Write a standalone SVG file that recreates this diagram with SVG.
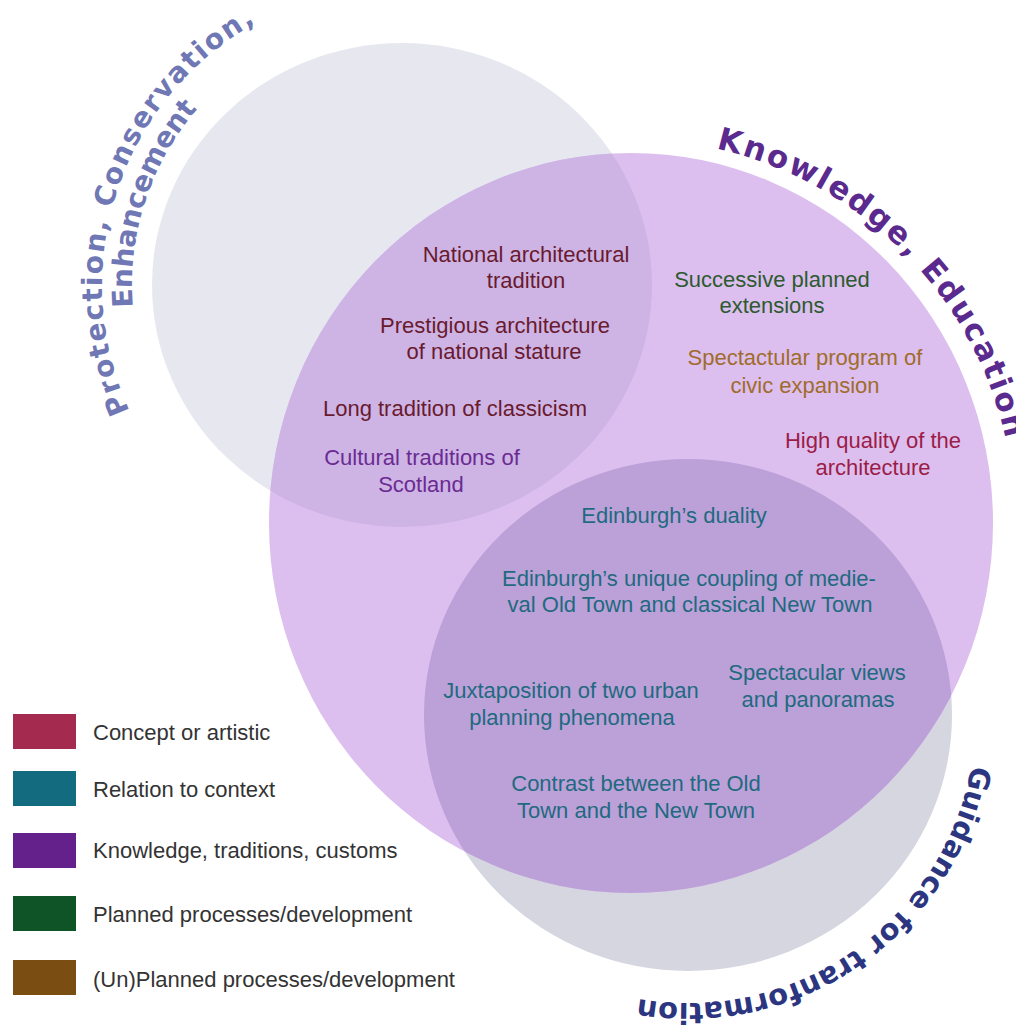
<svg xmlns="http://www.w3.org/2000/svg" width="1016" height="1028" viewBox="0 0 1016 1028">
<style>
.lbl{font-family:"Liberation Sans",Arial,sans-serif;font-size:22px;text-anchor:middle}
.leg{font-family:"Liberation Sans",Arial,sans-serif;font-size:22px;fill:#333333}
.arc{font-family:"DejaVu Sans","Liberation Sans",sans-serif;font-weight:bold}
.maroon{fill:#6a1a2e}.purple{fill:#6b2b92}.green{fill:#2d5a30}.brown{fill:#a06c2c}.crimson{fill:#9c1c48}.teal{fill:#1f6a80}
</style>
<defs>
<ellipse id="cA" cx="402" cy="285" rx="250" ry="242"/>
<ellipse id="cB" cx="631" cy="523" rx="362" ry="370"/>
<ellipse id="cC" cx="688" cy="715" rx="264" ry="256"/>
<clipPath id="clipB"><use href="#cB"/></clipPath>
<path id="pProt" d="M147.6,444 A300,300 0 0 1 289.6,6.8"/>
<path id="pEnh" d="M172.9,428 A270,270 0 0 1 301.0,34.7"/>
<path id="pKnow" d="M597.9,140.4 A384,384 0 0 1 1013.6,556.5"/>
<path id="pGuid" d="M974.9,689.9 A288,288 0 0 1 566.3,976"/>
</defs>
<rect width="1016" height="1028" fill="#ffffff"/>
<g id="circles">
<use href="#cA" fill="#e7e7f0"/>
<use href="#cC" fill="#d5d6e0"/>
<use href="#cB" fill="#dcbfef"/>
<g clip-path="url(#clipB)">
<use href="#cA" fill="#cdb4e5"/>
<use href="#cC" fill="#bca0d8"/>
</g>
</g>
<g id="connectors"/>
<g id="title-protection" class="arc" fill="#6f77b4" font-size="28">
<text><textPath href="#pProt" startOffset="50%" text-anchor="middle" textLength="448" lengthAdjust="spacing">Protection, Conservation,</textPath></text>
<text><textPath href="#pEnh" startOffset="50%" text-anchor="middle" textLength="214" lengthAdjust="spacing">Enhancement</textPath></text>
</g>
<g id="title-knowledge" class="arc" fill="#5a2a8e" font-size="31">
<text><textPath href="#pKnow" startOffset="50%" text-anchor="middle" textLength="432" lengthAdjust="spacing">Knowledge, Education</textPath></text>
</g>
<g id="title-guidance" class="arc" fill="#2c3680" font-size="29">
<text><textPath href="#pGuid" startOffset="50%" text-anchor="middle" textLength="452" lengthAdjust="spacing">Guidance for tranformation</textPath></text>
</g>
<g id="node-national"><text class="lbl maroon" x="526" y="262">National architectural</text><text class="lbl maroon" x="526" y="288">tradition</text></g>
<g id="node-prestigious"><text class="lbl maroon" x="495" y="333">Prestigious architecture</text><text class="lbl maroon" x="494" y="359">of national stature</text></g>
<g id="node-classicism"><text class="lbl maroon" x="455" y="416">Long tradition of classicism</text></g>
<g id="node-cultural"><text class="lbl purple" x="422" y="465">Cultural traditions of</text><text class="lbl purple" x="421" y="492">Scotland</text></g>
<g id="node-successive"><text class="lbl green" x="772" y="287">Successive planned</text><text class="lbl green" x="772" y="313">extensions</text></g>
<g id="node-civic"><text class="lbl brown" x="805" y="365">Spectactular program of</text><text class="lbl brown" x="805" y="393">civic expansion</text></g>
<g id="node-quality"><text class="lbl crimson" x="873" y="448">High quality of the</text><text class="lbl crimson" x="873" y="475">architecture</text></g>
<g id="node-duality"><text class="lbl teal" x="674" y="523">Edinburgh’s duality</text></g>
<g id="node-coupling"><text class="lbl teal" x="689" y="586">Edinburgh’s unique coupling of medie-</text><text class="lbl teal" x="690" y="612">val Old Town and classical New Town</text></g>
<g id="node-views"><text class="lbl teal" x="817" y="680">Spectacular views</text><text class="lbl teal" x="818" y="707">and panoramas</text></g>
<g id="node-juxtaposition"><text class="lbl teal" x="571" y="698">Juxtaposition of two urban</text><text class="lbl teal" x="572" y="725">planning phenomena</text></g>
<g id="node-contrast"><text class="lbl teal" x="636" y="791">Contrast between the Old</text><text class="lbl teal" x="636" y="818">Town and the New Town</text></g>
<g id="legend">
<rect x="13" y="714" width="63" height="35" fill="#a52a4f"/><text class="leg" x="93" y="740">Concept or artistic</text>
<rect x="13" y="771" width="63" height="35" fill="#136b80"/><text class="leg" x="93" y="797">Relation to context</text>
<rect x="13" y="833" width="63" height="35" fill="#65218b"/><text class="leg" x="93" y="858">Knowledge, traditions, customs</text>
<rect x="13" y="896" width="63" height="35" fill="#0f5426"/><text class="leg" x="93" y="922">Planned processes/development</text>
<rect x="13" y="960" width="63" height="35" fill="#7a4e13"/><text class="leg" x="93" y="987">(Un)Planned processes/development</text>
</g>
</svg>
